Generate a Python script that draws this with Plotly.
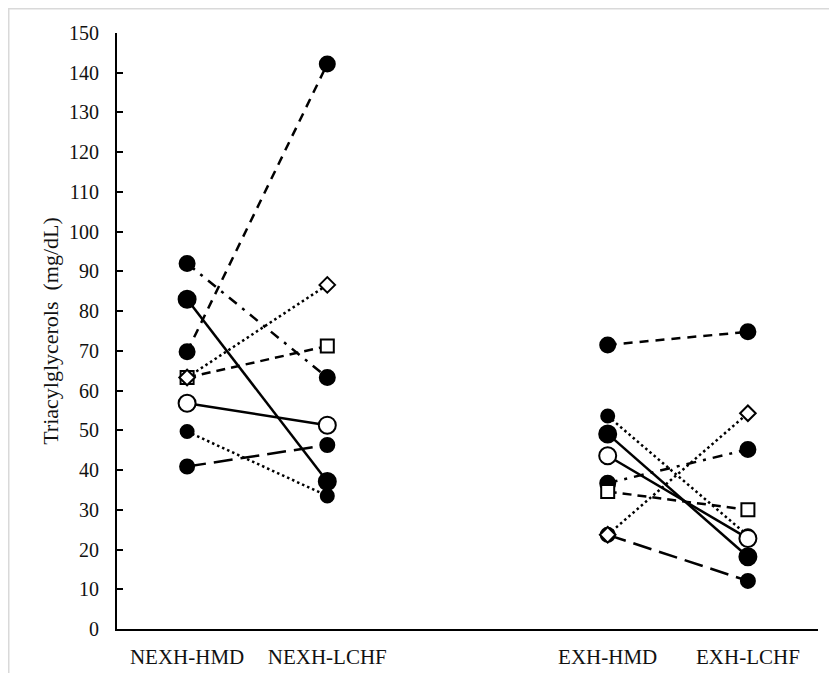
import plotly.graph_objects as go

# ---- data ----
categories = ["NEXH-HMD", "NEXH-LCHF", " ", "EXH-HMD", "EXH-LCHF"]
nexh_cats = ["NEXH-HMD", "NEXH-LCHF"]
exh_cats = ["EXH-HMD", "EXH-LCHF"]

# each subject: values for NEXH (HMD, LCHF) and EXH (HMD, LCHF)
s1_nexh = [92.0, 63.3];  s1_exh = [36.7, 45.2]   # dash-dot, filled
s2_nexh = [83.0, 37.1];  s2_exh = [49.1, 18.2]   # solid, big filled
s3_nexh = [69.8, 142.2]; s3_exh = [71.5, 74.8]   # dash, filled
s4_nexh = [63.3, 71.2];  s4_exh = [34.6, 30.0]   # dashed, open square
s5_nexh = [63.3, 86.6];  s5_exh = [23.7, 54.3]   # dotted, open diamond
s6_nexh = [56.8, 51.3];  s6_exh = [43.6, 22.8]   # solid, open circle
s7_nexh = [49.7, 33.5];  s7_exh = [53.6, 23.5]   # dotted, small filled
s8_nexh = [40.9, 46.3];  s8_exh = [23.7, 12.1]   # long dash, filled

y_ticks = list(range(0, 151, 10))

subjects = [
    dict(nexh=s1_nexh, exh=s1_exh, dash="10px,7px,3px,7px", sym="circle", size=15, fill="black"),
    dict(nexh=s2_nexh, exh=s2_exh, dash="solid", sym="circle", size=17, fill="black"),
    dict(nexh=s3_nexh, exh=s3_exh, dash="9px,7px", sym="circle", size=15, fill="black"),
    dict(nexh=s8_nexh, exh=s8_exh, dash="19px,8px", sym="circle", size=14, fill="black"),
    dict(nexh=s7_nexh, exh=s7_exh, dash="2.5px,3px", sym="circle", size=13, fill="black"),
    dict(nexh=s4_nexh, exh=s4_exh, dash="9px,6px", sym="square", size=13, fill="white"),
    dict(nexh=s5_nexh, exh=s5_exh, dash="2.5px,3px", sym="diamond", size=12, fill="white"),
    dict(nexh=s6_nexh, exh=s6_exh, dash="solid", sym="circle", size=17, fill="white"),
]

fig = go.Figure()

# lines first
for s in subjects:
    for cats, vals in ((nexh_cats, s["nexh"]), (exh_cats, s["exh"])):
        fig.add_trace(go.Scatter(
            x=cats, y=vals, mode="lines",
            line=dict(color="black", width=2.5, dash=s["dash"]),
            showlegend=False, hoverinfo="skip"))

# markers on top
for s in subjects:
    for cats, vals in ((nexh_cats, s["nexh"]), (exh_cats, s["exh"])):
        fig.add_trace(go.Scatter(
            x=cats, y=vals, mode="markers",
            marker=dict(symbol=s["sym"], size=s["size"], color=s["fill"],
                        line=dict(color="black", width=2)),
            showlegend=False))

# page body has an 8px margin; compensate
W, H = 829, 665
L, R, T, B = 109, 19, 25, 44
pw, ph = W - L - R, H - T - B

fig.update_layout(
    width=W, height=H,
    margin=dict(l=L, r=R, t=T, b=B, autoexpand=False),
    paper_bgcolor="white", plot_bgcolor="white",
    font=dict(family="Liberation Serif, Times New Roman, serif", size=21, color="#111111"),
    xaxis=dict(
        type="category", categoryorder="array", categoryarray=categories,
        range=[-0.5, len(categories) - 0.5],
        showline=True, linecolor="black", linewidth=2,
        ticks="", showgrid=False, zeroline=False, automargin=False,
        ticklabelstandoff=8,
        tickfont=dict(size=21),
    ),
    yaxis=dict(
        range=[0, 150], tickvals=y_ticks,
        showline=True, linecolor="black", linewidth=2,
        ticks="inside", ticklen=6, tickwidth=2, tickcolor="black",
        showgrid=False, zeroline=False, automargin=False,
        ticklabelstandoff=12,
        tickfont=dict(size=20),
        title=dict(text="Triacylglycerols  (mg/dL)", font=dict(size=22), standoff=4),
    ),
    shapes=[
        dict(type="line", xref="paper", yref="paper",
             x0=-L / pw, x1=(W + 5 - L) / pw,
             y0=(H - B - 0.5) / ph, y1=(H - B - 0.5) / ph,
             line=dict(color="#d9d9d9", width=2)),
        dict(type="line", xref="paper", yref="paper",
             x0=(0.5 - L) / pw, x1=(0.5 - L) / pw,
             y0=(H - B) / ph, y1=(-B - 5) / ph,
             line=dict(color="#d9d9d9", width=2)),
    ],
)

fig.write_html("out.html")
